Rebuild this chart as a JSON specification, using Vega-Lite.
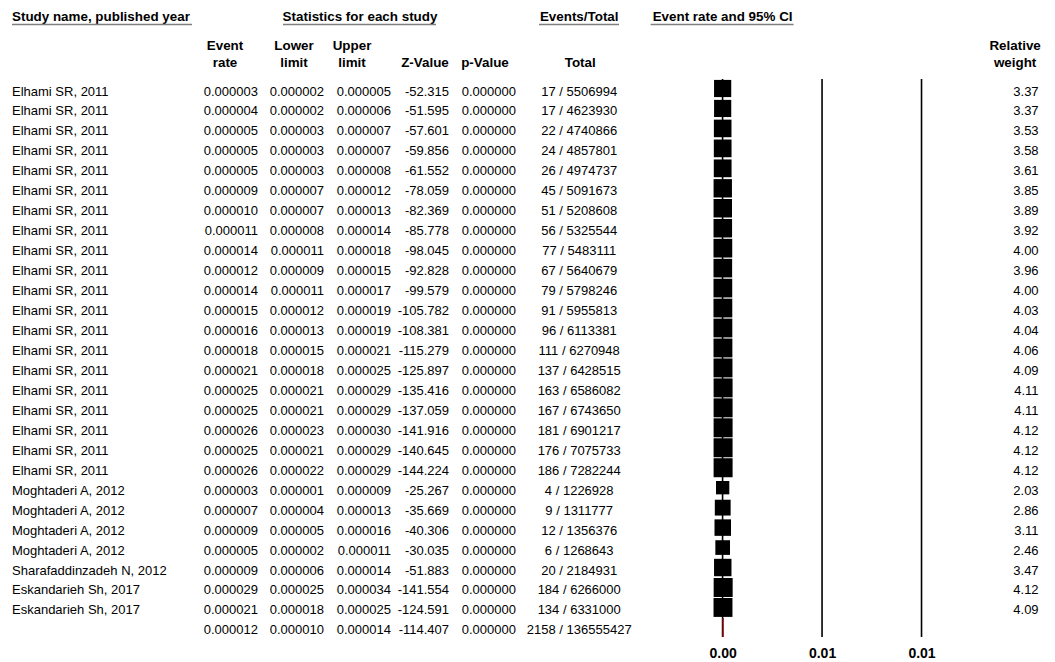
{
  "$schema": "https://vega.github.io/schema/vega-lite/v6.json",
  "autosize": {"type": "pad"},
  "padding": 0,
  "spacing": 0,
  "bounds": "flush",
  "background": "white",
  "config": {
    "view": {"stroke": null},
    "font": "Liberation Sans",
    "text": {"font": "Liberation Sans", "fontSize": 13, "color": "#000"},
    "locale": {"number": {"decimal": ".", "thousands": ",", "grouping": [3], "currency": ["$", ""], "minus": "-"}}
  },
  "datasets": {
    "studies": [
      {"i": 0, "study": "Elhami SR, 2011", "rate": 0.000003, "lower": 0.000002, "upper": 0.000005, "z": -52.315, "p": 0, "et": "17 / 5506994", "weight": 3.37},
      {"i": 1, "study": "Elhami SR, 2011", "rate": 0.000004, "lower": 0.000002, "upper": 0.000006, "z": -51.595, "p": 0, "et": "17 / 4623930", "weight": 3.37},
      {"i": 2, "study": "Elhami SR, 2011", "rate": 0.000005, "lower": 0.000003, "upper": 0.000007, "z": -57.601, "p": 0, "et": "22 / 4740866", "weight": 3.53},
      {"i": 3, "study": "Elhami SR, 2011", "rate": 0.000005, "lower": 0.000003, "upper": 0.000007, "z": -59.856, "p": 0, "et": "24 / 4857801", "weight": 3.58},
      {"i": 4, "study": "Elhami SR, 2011", "rate": 0.000005, "lower": 0.000003, "upper": 0.000008, "z": -61.552, "p": 0, "et": "26 / 4974737", "weight": 3.61},
      {"i": 5, "study": "Elhami SR, 2011", "rate": 0.000009, "lower": 0.000007, "upper": 0.000012, "z": -78.059, "p": 0, "et": "45 / 5091673", "weight": 3.85},
      {"i": 6, "study": "Elhami SR, 2011", "rate": 0.000010, "lower": 0.000007, "upper": 0.000013, "z": -82.369, "p": 0, "et": "51 / 5208608", "weight": 3.89},
      {"i": 7, "study": "Elhami SR, 2011", "rate": 0.000011, "lower": 0.000008, "upper": 0.000014, "z": -85.778, "p": 0, "et": "56 / 5325544", "weight": 3.92},
      {"i": 8, "study": "Elhami SR, 2011", "rate": 0.000014, "lower": 0.000011, "upper": 0.000018, "z": -98.045, "p": 0, "et": "77 / 5483111", "weight": 4.00},
      {"i": 9, "study": "Elhami SR, 2011", "rate": 0.000012, "lower": 0.000009, "upper": 0.000015, "z": -92.828, "p": 0, "et": "67 / 5640679", "weight": 3.96},
      {"i": 10, "study": "Elhami SR, 2011", "rate": 0.000014, "lower": 0.000011, "upper": 0.000017, "z": -99.579, "p": 0, "et": "79 / 5798246", "weight": 4.00},
      {"i": 11, "study": "Elhami SR, 2011", "rate": 0.000015, "lower": 0.000012, "upper": 0.000019, "z": -105.782, "p": 0, "et": "91 / 5955813", "weight": 4.03},
      {"i": 12, "study": "Elhami SR, 2011", "rate": 0.000016, "lower": 0.000013, "upper": 0.000019, "z": -108.381, "p": 0, "et": "96 / 6113381", "weight": 4.04},
      {"i": 13, "study": "Elhami SR, 2011", "rate": 0.000018, "lower": 0.000015, "upper": 0.000021, "z": -115.279, "p": 0, "et": "111 / 6270948", "weight": 4.06},
      {"i": 14, "study": "Elhami SR, 2011", "rate": 0.000021, "lower": 0.000018, "upper": 0.000025, "z": -125.897, "p": 0, "et": "137 / 6428515", "weight": 4.09},
      {"i": 15, "study": "Elhami SR, 2011", "rate": 0.000025, "lower": 0.000021, "upper": 0.000029, "z": -135.416, "p": 0, "et": "163 / 6586082", "weight": 4.11},
      {"i": 16, "study": "Elhami SR, 2011", "rate": 0.000025, "lower": 0.000021, "upper": 0.000029, "z": -137.059, "p": 0, "et": "167 / 6743650", "weight": 4.11},
      {"i": 17, "study": "Elhami SR, 2011", "rate": 0.000026, "lower": 0.000023, "upper": 0.000030, "z": -141.916, "p": 0, "et": "181 / 6901217", "weight": 4.12},
      {"i": 18, "study": "Elhami SR, 2011", "rate": 0.000025, "lower": 0.000021, "upper": 0.000029, "z": -140.645, "p": 0, "et": "176 / 7075733", "weight": 4.12},
      {"i": 19, "study": "Elhami SR, 2011", "rate": 0.000026, "lower": 0.000022, "upper": 0.000029, "z": -144.224, "p": 0, "et": "186 / 7282244", "weight": 4.12},
      {"i": 20, "study": "Moghtaderi A, 2012", "rate": 0.000003, "lower": 0.000001, "upper": 0.000009, "z": -25.267, "p": 0, "et": "4 / 1226928", "weight": 2.03},
      {"i": 21, "study": "Moghtaderi A, 2012", "rate": 0.000007, "lower": 0.000004, "upper": 0.000013, "z": -35.669, "p": 0, "et": "9 / 1311777", "weight": 2.86},
      {"i": 22, "study": "Moghtaderi A, 2012", "rate": 0.000009, "lower": 0.000005, "upper": 0.000016, "z": -40.306, "p": 0, "et": "12 / 1356376", "weight": 3.11},
      {"i": 23, "study": "Moghtaderi A, 2012", "rate": 0.000005, "lower": 0.000002, "upper": 0.000011, "z": -30.035, "p": 0, "et": "6 / 1268643", "weight": 2.46},
      {"i": 24, "study": "Sharafaddinzadeh N, 2012", "rate": 0.000009, "lower": 0.000006, "upper": 0.000014, "z": -51.883, "p": 0, "et": "20 / 2184931", "weight": 3.47},
      {"i": 25, "study": "Eskandarieh Sh, 2017", "rate": 0.000029, "lower": 0.000025, "upper": 0.000034, "z": -141.554, "p": 0, "et": "184 / 6266000", "weight": 4.12},
      {"i": 26, "study": "Eskandarieh Sh, 2017", "rate": 0.000021, "lower": 0.000018, "upper": 0.000025, "z": -124.591, "p": 0, "et": "134 / 6331000", "weight": 4.09},
      {"i": 27, "study": "", "rate": 0.000012, "lower": 0.000010, "upper": 0.000014, "z": -114.407, "p": 0, "et": "2158 / 136555427", "weight": null}
    ],
    "gridlines": [{"v": 0}, {"v": 0.005}, {"v": 0.01}]
  },
  "hconcat": [
    {
      "width": 192, "height": 640,
      "layer": [
        {
          "data": {"name": "studies"},
          "mark": {"type": "text", "align": "left", "baseline": "alphabetic", "dx": 12, "dy": 7},
          "encoding": {
            "x": {"value": 0},
            "y": {"field": "i", "type": "quantitative", "scale": {"domain": [0, 27], "range": [88.5, 627.4], "nice": false, "zero": false}, "axis": null},
            "text": {"field": "study", "type": "nominal"}
          }
        },
        {
          "data": {"values": [{}]},
          "mark": {"type": "text", "align": "left", "baseline": "alphabetic", "dx": 12, "fontWeight": "bold", "fontSize": 13.4, "text": "Study name, published year"},
          "encoding": {
            "x": {"value": 0},
            "y": {"datum": -3.357, "type": "quantitative", "scale": {"domain": [0, 27], "range": [88.5, 627.4], "nice": false, "zero": false}, "axis": null}
          }
        },
        {
          "data": {"values": [{}]},
          "mark": {"type": "rule", "color": "#7f7f7f", "strokeWidth": 1.5},
          "encoding": {
            "x": {"value": 12}, "x2": {"value": 192},
            "y": {"datum": -3.207, "type": "quantitative", "scale": {"domain": [0, 27], "range": [88.5, 627.4], "nice": false, "zero": false}, "axis": null}
          }
        }
      ]
    },
    {
      "width": 66, "height": 640,
      "layer": [
        {
          "data": {"name": "studies"},
          "mark": {"type": "text", "align": "right", "baseline": "alphabetic", "dy": 7},
          "encoding": {
            "x": {"value": "width"},
            "y": {"field": "i", "type": "quantitative", "scale": {"domain": [0, 27], "range": [88.5, 627.4], "nice": false, "zero": false}, "axis": null},
            "text": {"field": "rate", "type": "quantitative", "format": ".6f"}
          }
        },
        {
          "data": {"values": [{}]},
          "mark": {"type": "text", "align": "center", "baseline": "alphabetic", "fontWeight": "bold", "fontSize": 13.4, "lineHeight": 16.7, "text": ["Event", "rate"]},
          "encoding": {
            "x": {"datum": "h", "type": "nominal", "axis": null},
            "y": {"datum": -1.929, "type": "quantitative", "scale": {"domain": [0, 27], "range": [88.5, 627.4], "nice": false, "zero": false}, "axis": null}
          }
        }
      ]
    },
    {
      "width": 66, "height": 640,
      "layer": [
        {
          "data": {"name": "studies"},
          "mark": {"type": "text", "align": "right", "baseline": "alphabetic", "dy": 7},
          "encoding": {
            "x": {"value": "width"},
            "y": {"field": "i", "type": "quantitative", "scale": {"domain": [0, 27], "range": [88.5, 627.4], "nice": false, "zero": false}, "axis": null},
            "text": {"field": "lower", "type": "quantitative", "format": ".6f"}
          }
        },
        {
          "data": {"values": [{}]},
          "mark": {"type": "text", "align": "center", "baseline": "alphabetic", "dx": 3, "fontWeight": "bold", "fontSize": 13.4, "lineHeight": 16.7, "text": ["Lower", "limit"]},
          "encoding": {
            "x": {"datum": "h", "type": "nominal", "axis": null},
            "y": {"datum": -1.929, "type": "quantitative", "scale": {"domain": [0, 27], "range": [88.5, 627.4], "nice": false, "zero": false}, "axis": null}
          }
        }
      ]
    },
    {
      "width": 67, "height": 640,
      "layer": [
        {
          "data": {"name": "studies"},
          "mark": {"type": "text", "align": "right", "baseline": "alphabetic", "dy": 7},
          "encoding": {
            "x": {"value": "width"},
            "y": {"field": "i", "type": "quantitative", "scale": {"domain": [0, 27], "range": [88.5, 627.4], "nice": false, "zero": false}, "axis": null},
            "text": {"field": "upper", "type": "quantitative", "format": ".6f"}
          }
        },
        {
          "data": {"values": [{}]},
          "mark": {"type": "text", "align": "center", "baseline": "alphabetic", "dx": -5.5, "fontWeight": "bold", "fontSize": 13.4, "lineHeight": 16.7, "text": ["Upper", "limit"]},
          "encoding": {
            "x": {"datum": "h", "type": "nominal", "axis": null},
            "y": {"datum": -1.929, "type": "quantitative", "scale": {"domain": [0, 27], "range": [88.5, 627.4], "nice": false, "zero": false}, "axis": null}
          }
        },
        {
          "data": {"values": [{}]},
          "mark": {"type": "text", "align": "center", "baseline": "alphabetic", "dx": 2.5, "fontWeight": "bold", "fontSize": 13.4, "text": "Statistics for each study"},
          "encoding": {
            "x": {"datum": "h", "type": "nominal", "axis": null},
            "y": {"datum": -3.357, "type": "quantitative", "scale": {"domain": [0, 27], "range": [88.5, 627.4], "nice": false, "zero": false}, "axis": null}
          }
        },
        {
          "data": {"values": [{}]},
          "mark": {"type": "rule", "color": "#7f7f7f", "strokeWidth": 1.5},
          "encoding": {
            "x": {"value": -41}, "x2": {"value": 112},
            "y": {"datum": -3.207, "type": "quantitative", "scale": {"domain": [0, 27], "range": [88.5, 627.4], "nice": false, "zero": false}, "axis": null}
          }
        }
      ]
    },
    {
      "width": 58, "height": 640,
      "layer": [
        {
          "data": {"name": "studies"},
          "mark": {"type": "text", "align": "right", "baseline": "alphabetic", "dy": 7},
          "encoding": {
            "x": {"value": "width"},
            "y": {"field": "i", "type": "quantitative", "scale": {"domain": [0, 27], "range": [88.5, 627.4], "nice": false, "zero": false}, "axis": null},
            "text": {"field": "z", "type": "quantitative", "format": ".3f"}
          }
        },
        {
          "data": {"values": [{}]},
          "mark": {"type": "text", "align": "center", "baseline": "alphabetic", "dx": 5, "fontWeight": "bold", "fontSize": 13.4, "text": "Z-Value"},
          "encoding": {
            "x": {"datum": "h", "type": "nominal", "axis": null},
            "y": {"datum": -1.092, "type": "quantitative", "scale": {"domain": [0, 27], "range": [88.5, 627.4], "nice": false, "zero": false}, "axis": null}
          }
        }
      ]
    },
    {
      "width": 67, "height": 640,
      "layer": [
        {
          "data": {"name": "studies"},
          "mark": {"type": "text", "align": "right", "baseline": "alphabetic", "dy": 7},
          "encoding": {
            "x": {"value": "width"},
            "y": {"field": "i", "type": "quantitative", "scale": {"domain": [0, 27], "range": [88.5, 627.4], "nice": false, "zero": false}, "axis": null},
            "text": {"field": "p", "type": "quantitative", "format": ".6f"}
          }
        },
        {
          "data": {"values": [{}]},
          "mark": {"type": "text", "align": "center", "baseline": "alphabetic", "dx": 2.5, "fontWeight": "bold", "fontSize": 13.4, "text": "p-Value"},
          "encoding": {
            "x": {"datum": "h", "type": "nominal", "axis": null},
            "y": {"datum": -1.092, "type": "quantitative", "scale": {"domain": [0, 27], "range": [88.5, 627.4], "nice": false, "zero": false}, "axis": null}
          }
        }
      ]
    },
    {
      "width": 126.4, "height": 640,
      "layer": [
        {
          "data": {"name": "studies"},
          "mark": {"type": "text", "align": "center", "baseline": "alphabetic", "dy": 7},
          "encoding": {
            "x": {"datum": "h", "type": "nominal", "axis": null},
            "y": {"field": "i", "type": "quantitative", "scale": {"domain": [0, 27], "range": [88.5, 627.4], "nice": false, "zero": false}, "axis": null},
            "text": {"field": "et", "type": "nominal"}
          }
        },
        {
          "data": {"values": [{}]},
          "mark": {"type": "text", "align": "center", "baseline": "alphabetic", "dx": 1, "fontWeight": "bold", "fontSize": 13.4, "text": "Total"},
          "encoding": {
            "x": {"datum": "h", "type": "nominal", "axis": null},
            "y": {"datum": -1.092, "type": "quantitative", "scale": {"domain": [0, 27], "range": [88.5, 627.4], "nice": false, "zero": false}, "axis": null}
          }
        },
        {
          "data": {"values": [{}]},
          "mark": {"type": "text", "align": "center", "baseline": "alphabetic", "fontWeight": "bold", "fontSize": 13.4, "text": "Events/Total"},
          "encoding": {
            "x": {"datum": "h", "type": "nominal", "axis": null},
            "y": {"datum": -3.357, "type": "quantitative", "scale": {"domain": [0, 27], "range": [88.5, 627.4], "nice": false, "zero": false}, "axis": null}
          }
        },
        {
          "data": {"values": [{}]},
          "mark": {"type": "rule", "color": "#7f7f7f", "strokeWidth": 1.5},
          "encoding": {
            "x": {"value": 23}, "x2": {"value": 103},
            "y": {"datum": -3.207, "type": "quantitative", "scale": {"domain": [0, 27], "range": [88.5, 627.4], "nice": false, "zero": false}, "axis": null}
          }
        }
      ]
    },
    {
      "width": 378, "height": 640,
      "layer": [
        {
          "data": {"name": "gridlines"},
          "mark": {"type": "rule", "color": "#000", "strokeWidth": 1.6},
          "encoding": {
            "x": {"field": "v", "type": "quantitative",
                  "scale": {"domain": [-0.004, 0.015], "nice": false, "zero": false},
                  "axis": {"values": [0, 0.005, 0.01], "format": ".2f", "ticks": false, "tickSize": 0, "domain": false, "grid": false, "title": null,
                           "labelPadding": 17, "labelBaseline": "alphabetic", "labelFont": "Liberation Sans", "labelFontSize": 14,
                           "labelFontWeight": "bold", "labelColor": "#000", "labelOverlap": false, "labelFlush": false}},
            "y": {"datum": -0.476, "type": "quantitative", "scale": {"domain": [0, 27], "range": [88.5, 627.4], "nice": false, "zero": false}, "axis": null},
            "y2": {"datum": 27.48}
          }
        },
        {
          "data": {"name": "studies"},
          "transform": [{"filter": "isValid(datum.weight)"}],
          "mark": {"type": "rule", "color": "#000", "strokeWidth": 1},
          "encoding": {
            "x": {"field": "lower", "type": "quantitative"},
            "x2": {"field": "upper"},
            "y": {"field": "i", "type": "quantitative", "scale": {"domain": [0, 27], "range": [88.5, 627.4], "nice": false, "zero": false}, "axis": null}
          }
        },
        {
          "data": {"name": "studies"},
          "transform": [{"filter": "isValid(datum.weight)"}],
          "mark": {"type": "square", "filled": true, "color": "#000", "opacity": 1},
          "encoding": {
            "x": {"field": "rate", "type": "quantitative"},
            "y": {"field": "i", "type": "quantitative", "scale": {"domain": [0, 27], "range": [88.5, 627.4], "nice": false, "zero": false}, "axis": null},
            "size": {"field": "weight", "type": "quantitative", "scale": {"type": "linear", "domain": [0, 4.12], "range": [0, 361]}, "legend": null}
          }
        },
        {
          "data": {"name": "studies"},
          "transform": [{"filter": "!isValid(datum.weight)"}],
          "mark": {"type": "tick", "orient": "vertical", "color": "#7a0000", "thickness": 1.6, "size": 19, "opacity": 1},
          "encoding": {
            "x": {"field": "rate", "type": "quantitative"},
            "y": {"field": "i", "type": "quantitative", "scale": {"domain": [0, 27], "range": [88.5, 627.4], "nice": false, "zero": false}, "axis": null}
          }
        },
        {
          "data": {"values": [{}]},
          "mark": {"type": "text", "align": "center", "baseline": "alphabetic", "fontWeight": "bold", "fontSize": 13.4, "text": "Event rate and 95% CI"},
          "encoding": {
            "x": {"datum": 0, "type": "quantitative"},
            "y": {"datum": -3.357, "type": "quantitative", "scale": {"domain": [0, 27], "range": [88.5, 627.4], "nice": false, "zero": false}, "axis": null}
          }
        },
        {
          "data": {"values": [{}]},
          "mark": {"type": "rule", "color": "#7f7f7f", "strokeWidth": 1.5},
          "encoding": {
            "x": {"datum": -0.003618, "type": "quantitative"},
            "x2": {"datum": 0.003568},
            "y": {"datum": -3.207, "type": "quantitative", "scale": {"domain": [0, 27], "range": [88.5, 627.4], "nice": false, "zero": false}, "axis": null}
          }
        }
      ]
    },
    {
      "width": 17.6, "height": 640,
      "layer": [
        {
          "data": {"name": "studies"},
          "transform": [{"filter": "isValid(datum.weight)"}],
          "mark": {"type": "text", "align": "right", "baseline": "alphabetic", "dy": 7},
          "encoding": {
            "x": {"value": "width"},
            "y": {"field": "i", "type": "quantitative", "scale": {"domain": [0, 27], "range": [88.5, 627.4], "nice": false, "zero": false}, "axis": null},
            "text": {"field": "weight", "type": "quantitative", "format": ".2f"}
          }
        },
        {
          "data": {"values": [{}]},
          "mark": {"type": "text", "align": "center", "baseline": "alphabetic", "dx": -14.7, "fontWeight": "bold", "fontSize": 13.4, "lineHeight": 16.7, "text": ["Relative", "weight"]},
          "encoding": {
            "x": {"datum": "h", "type": "nominal", "axis": null},
            "y": {"datum": -1.929, "type": "quantitative", "scale": {"domain": [0, 27], "range": [88.5, 627.4], "nice": false, "zero": false}, "axis": null}
          }
        }
      ]
    }
  ]
}
